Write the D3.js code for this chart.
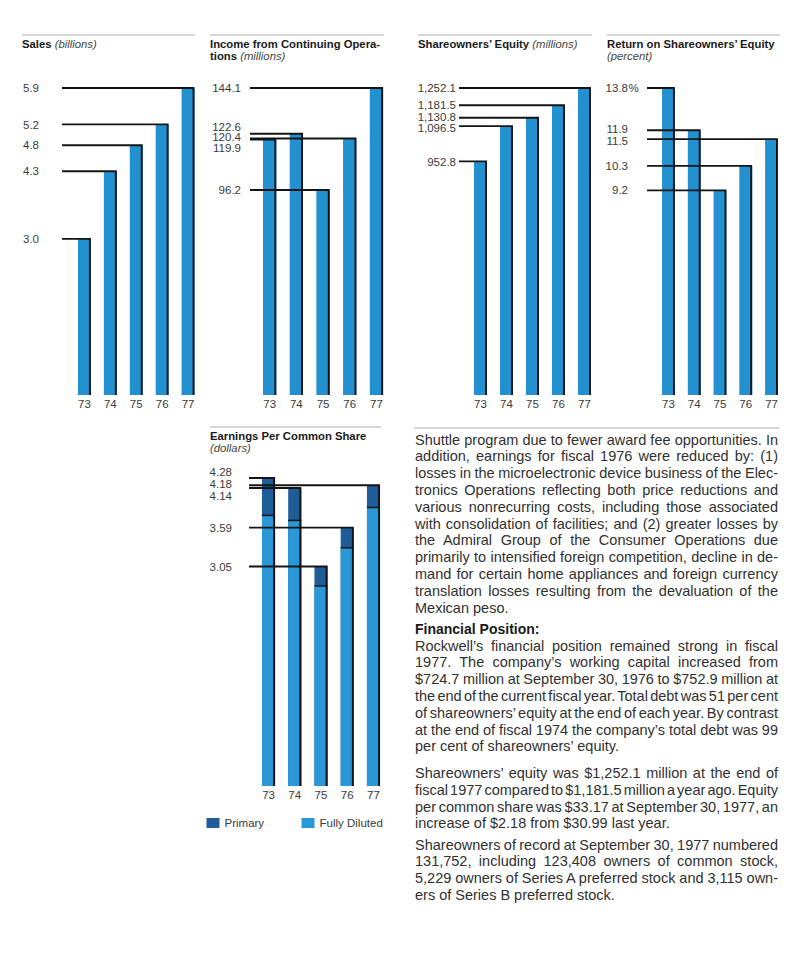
<!DOCTYPE html>
<html lang="en">
<head>
<meta charset="UTF-8">
<title>Rockwell 1977 - five year charts</title>
<script src="https://cdnjs.cloudflare.com/ajax/libs/d3/7.8.5/d3.min.js"></script>
<style>
  html, body { margin: 0; padding: 0; background: #fff; }
  svg { display: block; font-family: "Liberation Sans", Arial, sans-serif; }
</style>
</head>
<body>
<div id="page"></div>
<script>
// data
var years = ["73", "74", "75", "76", "77"];
var sales = [3.0, 4.3, 4.8, 5.2, 5.9];
var income = [119.9, 122.6, 96.2, 120.4, 144.1];
var equity = [952.8, 1096.5, 1130.8, 1181.5, 1252.1];
var returnOnEquity = [13.8, 11.9, 9.2, 10.3, 11.5];
var epsPrimary = [4.28, 4.14, 3.05, 3.59, 4.18];
var epsDiluted = [3.76, 3.69, 2.78, 3.31, 3.87];
var legendLabels = ["Primary", "Fully Diluted"];

var para1 = [
  "Shuttle program due to fewer award fee opportunities. In",
  "addition, earnings for fiscal 1976 were reduced by: (1)",
  "losses in the microelectronic device business of the Elec-",
  "tronics Operations reflecting both price reductions and",
  "various nonrecurring costs, including those associated",
  "with consolidation of facilities; and (2) greater losses by",
  "the Admiral Group of the Consumer Operations due",
  "primarily to intensified foreign competition, decline in de-",
  "mand for certain home appliances and foreign currency",
  "translation losses resulting from the devaluation of the",
  "Mexican peso."
];
var heading = "Financial Position:";
var para2 = [
  "Rockwell\u2019s financial position remained strong in fiscal",
  "1977. The company\u2019s working capital increased from",
  "$724.7 million at September 30, 1976 to $752.9 million at",
  "the end of the current fiscal year. Total debt was 51 per cent",
  "of shareowners\u2019 equity at the end of each year. By contrast",
  "at the end of fiscal 1974 the company\u2019s total debt was 99",
  "per cent of shareowners\u2019 equity."
];
var para3 = [
  "Shareowners\u2019 equity was $1,252.1 million at the end of",
  "fiscal 1977 compared to $1,181.5 million a year ago. Equity",
  "per common share was $33.17 at September 30, 1977, an",
  "increase of $2.18 from $30.99 last year."
];
var para4 = [
  "Shareowners of record at September 30, 1977 numbered",
  "131,752, including 123,408 owners of common stock,",
  "5,229 owners of Series A preferred stock and 3,115 own-",
  "ers of Series B preferred stock."
];

var barBlue = "#2391d0", darkBlue = "#1f5d98", lightBlue = "#2a98d6", ink = "#141414";

var svg = d3.select("#page").append("svg")
  .attr("width", 800)
  .attr("height", 964);

svg.append("rect").attr("width", 800).attr("height", 964).attr("fill", "#fff");

// push overlapping labels apart, keeping their centre
function spread(items, gap) {
  items.sort(function(a, b) { return a.ly - b.ly; });
  for (var it = 0; it < 200; it++) {
    for (var k = 1; k < items.length; k++) {
      var d = items[k].ly - items[k - 1].ly;
      if (d < gap) {
        var s = (gap - d) / 2;
        items[k - 1].ly -= s;
        items[k].ly += s;
      }
    }
  }
}

function draw(o) {
  var g = svg.append("g");

  g.append("line")
    .attr("x1", o.ruleX[0]).attr("x2", o.ruleX[1])
    .attr("y1", o.ruleY).attr("y2", o.ruleY)
    .attr("stroke", "#9a9a9a").attr("stroke-width", 0.8);

  o.title.forEach(function(line, li) {
    var t = g.append("text")
      .attr("x", o.ruleX[0])
      .attr("y", o.ruleY + 12.5 + li * 12)
      .style("font-size", "11.3px");
    line.forEach(function(p) {
      t.append("tspan").text(p.t)
        .style("font-weight", p.b ? "bold" : "normal")
        .style("font-style", p.i ? "italic" : "normal")
        .attr("fill", p.i ? "#444" : "#1a1a1a");
    });
  });

  var x = d3.scaleBand().domain(years).range(o.xRange).paddingInner(0.5).paddingOuter(0.25);
  var y = d3.scaleLinear().domain([0, d3.max(o.values)]).range([o.bottom, o.top]);
  var bw = x.bandwidth();

  var rows = years.map(function(yr, i) {
    return { year: yr, v: o.values[i], d: o.lower ? o.lower[i] : null, ly: y(o.values[i]) };
  });

  // bars
  g.append("g").selectAll("rect").data(rows).join("rect")
    .attr("x", function(d) { return x(d.year); })
    .attr("y", function(d) { return y(d.v); })
    .attr("width", bw)
    .attr("height", function(d) { return o.bottom - y(d.v); })
    .attr("fill", o.lower ? darkBlue : barBlue);

  if (o.lower) {
    g.append("g").selectAll("rect").data(rows).join("rect")
      .attr("x", function(d) { return x(d.year); })
      .attr("y", function(d) { return y(d.d); })
      .attr("width", bw)
      .attr("height", function(d) { return o.bottom - y(d.d); })
      .attr("fill", lightBlue);
    g.append("g").selectAll("line").data(rows).join("line")
      .attr("x1", function(d) { return x(d.year); })
      .attr("x2", function(d) { return x(d.year) + bw; })
      .attr("y1", function(d) { return y(d.d); })
      .attr("y2", function(d) { return y(d.d); })
      .attr("stroke", ink).attr("stroke-width", 1.5);
  }

  // leader lines that turn down the right edge of each bar
  g.append("g").selectAll("path").data(rows).join("path")
    .attr("d", function(d) {
      var r = x(d.year) + bw - 1;
      return "M" + o.lineStart + "," + y(d.v) + "H" + r + "V" + o.bottom;
    })
    .attr("fill", "none")
    .attr("stroke", ink)
    .attr("stroke-width", 1.9);

  // value labels
  var labs = rows.map(function(d) { return d; });
  spread(labs, o.gap || 11.5);
  var fmt = d3.format(o.fmt);
  var maxV = d3.max(o.values);
  g.append("g").selectAll("text").data(labs).join("text")
    .attr("x", o.labelX)
    .attr("y", function(d) { return d.ly; })
    .attr("dy", "0.36em")
    .attr("text-anchor", "end")
    .style("font-size", "11.5px")
    .attr("fill", "#3a3a3a")
    .text(function(d) { return fmt(d.v); });
  if (o.pct) {
    g.append("text")
      .attr("x", o.labelX + 0.5)
      .attr("y", y(maxV))
      .attr("dy", "0.36em")
      .style("font-size", "11.5px")
      .attr("fill", "#3a3a3a")
      .text("%");
  }

  // year axis
  var ax = g.append("g")
    .attr("transform", "translate(0," + o.bottom + ")")
    .call(d3.axisBottom(x).tickSize(0).tickPadding(5));
  ax.select(".domain").remove();
  ax.selectAll("text")
    .style("font-size", "11.5px")
    .style("font-family", "'Liberation Sans', Arial, sans-serif")
    .attr("fill", "#3a3a3a");

  return { x: x, y: y };
}

draw({
  values: sales, xRange: [71.5, 201], top: 88, bottom: 395,
  ruleX: [22, 195], ruleY: 35, labelX: 39, lineStart: 62, fmt: ".1f",
  title: [[{ t: "Sales", b: true }, { t: " (billions)", i: true }]]
});

draw({
  values: income, xRange: [256.3, 389.8], top: 88, bottom: 395,
  ruleX: [210, 384], ruleY: 35, labelX: 241, lineStart: 250, fmt: ".1f", gap: 10.5,
  title: [[{ t: "Income from Continuing Opera-", b: true }],
          [{ t: "tions", b: true }, { t: " (millions)", i: true }]]
});

draw({
  values: equity, xRange: [467.5, 597.5], top: 88, bottom: 395,
  ruleX: [418, 592], ruleY: 35, labelX: 456, lineStart: 459, fmt: ",.1f", gap: 11.7,
  title: [[{ t: "Shareowners\u2019 Equity", b: true }, { t: " (millions)", i: true }]]
});

draw({
  values: returnOnEquity, xRange: [655.6, 784.4], top: 88, bottom: 395,
  ruleX: [607, 780], ruleY: 35, labelX: 628, lineStart: 647, fmt: ".1f", pct: true,
  title: [[{ t: "Return on Shareowners\u2019 Equity", b: true }],
          [{ t: "(percent)", i: true }]]
});

draw({
  values: epsPrimary, lower: epsDiluted, xRange: [255.4, 386.6], top: 478, bottom: 786,
  ruleX: [210, 381], ruleY: 427, labelX: 232, lineStart: 249, fmt: ".2f", gap: 12,
  title: [[{ t: "Earnings Per Common Share", b: true }],
          [{ t: "(dollars)", i: true }]]
});

// legend
var colour = d3.scaleOrdinal().domain(legendLabels).range([darkBlue, lightBlue]);
var lg = svg.append("g").selectAll("g").data(legendLabels).join("g")
  .attr("transform", function(d, i) { return "translate(" + (206.5 + i * 95) + ",818)"; });
lg.append("rect").attr("width", 13).attr("height", 10).attr("fill", function(d) { return colour(d); });
lg.append("text").attr("x", 18).attr("y", 9)
  .style("font-size", "11.5px").attr("fill", "#3a3a3a")
  .text(function(d) { return d; });

// body text, justified line by line as in the original
svg.append("line")
  .attr("x1", 414).attr("x2", 779).attr("y1", 428).attr("y2", 428)
  .attr("stroke", "#9a9a9a").attr("stroke-width", 0.8);

var tx = 415, tw = 363, lh = 16.8;
var rows = [];
function addPara(lines, y0) {
  lines.forEach(function(s, i) {
    rows.push({ s: s, y: y0 + i * lh, just: i < lines.length - 1 });
  });
}
addPara(para1, 444.5);
addPara(para2, 650.5);
addPara(para3, 778);
addPara(para4, 849.5);

var texts = svg.append("g").selectAll("text").data(rows).join("text")
  .attr("x", tx)
  .attr("y", function(d) { return d.y; })
  .style("font-size", "14.5px")
  .attr("fill", "#303030")
  .text(function(d) { return d.s; });
texts.each(function(d) {
  var w = this.getComputedTextLength();
  var gaps = (d.s.match(/ /g) || []).length;
  if (!d.just || !gaps) return;
  var ws = (tw - w) / gaps;
  if (ws >= -2.2) {
    d3.select(this).style("word-spacing", ws + "px");
  } else {
    d3.select(this).attr("textLength", tw).attr("lengthAdjust", "spacingAndGlyphs");
  }
});

svg.append("text")
  .attr("x", tx).attr("y", 634)
  .style("font-size", "14px").style("font-weight", "bold")
  .attr("fill", "#1a1a1a")
  .text(heading);
</script>
</body>
</html>
